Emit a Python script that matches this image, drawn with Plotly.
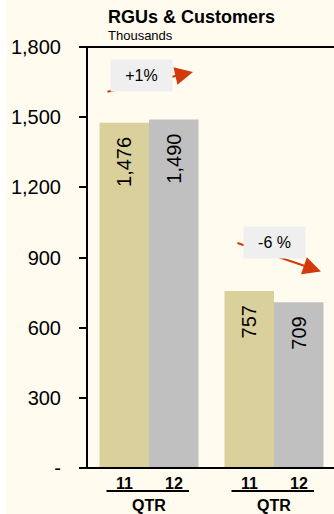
import plotly.graph_objects as go

groups = ["QTR A", "QTR B"]
series_names = ["11", "12"]
values_11 = [1476, 757]
values_12 = [1490, 709]
y_ticks = [0, 300, 600, 900, 1200, 1500, 1800]
y_tick_text = ["-", "300", "600", "900", "1,200", "1,500", "1,800"]
change_labels = ["+1%", "-6 %"]
group_label = "QTR"
title_text = "RGUs & Customers"
subtitle_text = "Thousands"

TAN = "#d9d09b"
GRAY = "#c0c0c0"
BG = "#fffbef"
RED = "#d23a0c"
FONT = "Liberation Sans, Arial, sans-serif"

PW, PH = 246, 421  # plot area in pixels

fig = go.Figure()
for name, vals, col in [(series_names[0], values_11, TAN), (series_names[1], values_12, GRAY)]:
    fig.add_trace(go.Bar(
        x=list(range(len(groups))), y=vals, name=name, marker_color=col,
        marker_line_width=0,
        texttemplate="%{y:,}\u00a0\u00a0", textposition="inside", insidetextanchor="end",
        textangle=-90, textfont=dict(size=20, color="black", family=FONT),
        cliponaxis=False,
    ))

W = 0.396  # half group width in data units
ann = []
shapes = []
for i, g in enumerate(groups):
    for j, s in enumerate(series_names):
        ann.append(dict(x=i + (j - 0.5) * W, y=0, xref="x", yref="paper", yshift=-5,
                        text="<b>%s</b>" % s, showarrow=False, yanchor="top",
                        font=dict(size=16, family=FONT, color="black")))
    shapes.append(dict(type="line", xref="x", yref="paper", x0=i - 0.34, x1=i + 0.32,
                       y0=-23 / PH, y1=-23 / PH, line=dict(color="black", width=2)))
    ann.append(dict(x=i, y=0, xref="x", yref="paper", yshift=-27,
                    text="<b>%s</b>" % group_label,
                    showarrow=False, yanchor="top",
                    font=dict(size=16, family=FONT, color="black")))

# change arrows + boxes
arrows = [((-0.344, 1607), (0.352, 1693)), ((0.696, 964), (1.376, 840))]
boxes = [(-0.06, 1678), (1.004, 964)]
for (t, h), (bx, by), lab in zip(arrows, boxes, change_labels):
    ann.append(dict(x=h[0], y=h[1], ax=t[0], ay=t[1], xref="x", yref="y",
                    axref="x", ayref="y", text="", showarrow=True,
                    arrowhead=2, arrowsize=1.8, arrowwidth=2, arrowcolor=RED))
    ann.append(dict(x=bx, y=by, xref="x", yref="y", text=lab, showarrow=False,
                    bgcolor="#efefef", borderpad=7, width=47,
                    font=dict(size=16, family=FONT, color="black")))

# title and subtitle
ann.append(dict(x=20 / PW, y=1 + 30 / PH, xref="paper", yref="paper",
                text="<b>%s</b>" % title_text, showarrow=False,
                xanchor="left", yanchor="middle", xshift=-2,
                font=dict(size=18, family=FONT, color="black")))
ann.append(dict(x=20 / PW, y=1 + 11 / PH, xref="paper", yref="paper",
                text=subtitle_text, showarrow=False,
                xanchor="left", yanchor="middle", xshift=-2,
                font=dict(size=13, family=FONT, color="black")))

shapes.append(dict(type="line", xref="paper", yref="paper", x0=-7 / PW, x1=1, y0=1, y1=1,
                   line=dict(color="black", width=2)))
shapes.append(dict(type="line", xref="paper", yref="paper", x0=-7 / PW, x1=1, y0=0, y1=0,
                   line=dict(color="black", width=2)))
shapes.append(dict(type="rect", xref="paper", yref="paper", x0=-88 / PW, x1=-82 / PW,
                   y0=-1, y1=2, fillcolor="white", line_width=0, layer="below"))

fig.update_layout(
    width=334, height=514,
    margin=dict(l=88, r=0, t=47, b=46),
    paper_bgcolor=BG, plot_bgcolor=BG,
    barmode="group", bargap=0.208, bargroupgap=0,
    showlegend=False,
    font=dict(family=FONT, color="black"),
    xaxis=dict(range=[-0.488, 1.48], showticklabels=False, ticks="", showgrid=False,
               zeroline=False, showline=False, fixedrange=True),
    yaxis=dict(range=[0, 1800], tickvals=y_ticks, ticktext=y_tick_text,
               ticks="outside", ticklen=7, tickwidth=2, tickcolor="black",
               showline=True, linecolor="black", linewidth=2,
               showgrid=False, zeroline=False, ticklabelstandoff=14,
               tickfont=dict(size=20, family=FONT, color="black")),
    annotations=ann, shapes=shapes,
)

fig.write_html("out.html")
